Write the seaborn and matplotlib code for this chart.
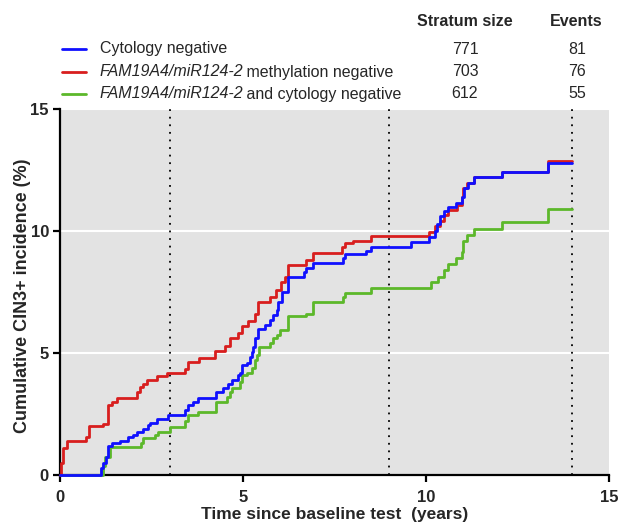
import numpy as np
import pandas as pd
import matplotlib
matplotlib.use("Agg")
import matplotlib.pyplot as plt
import seaborn as sns

# ==========================================================
# DATA
# ==========================================================

cyto_t = [0, 1.12, 1.18, 1.26, 1.3, 1.42, 1.64, 1.86, 2.0, 2.1, 2.28, 2.4, 2.46,
          2.65, 2.95, 3.42, 3.5, 3.63, 3.77, 4.26, 4.45, 4.6, 4.7, 4.87, 4.92,
          4.97, 5.1, 5.19, 5.24, 5.28, 5.33, 5.42, 5.6, 5.74, 5.83, 5.93, 5.96,
          6.07, 6.23, 6.67, 6.72, 6.9, 7.73, 7.8, 8.36, 8.5, 9.6, 10.08, 10.25,
          10.3, 10.38, 10.5, 10.6, 10.82, 10.98, 11.04, 11.15, 11.3, 12.08,
          13.33, 14.0]
cyto_y = [0, 0.3, 0.5, 0.75, 1.2, 1.3, 1.4, 1.55, 1.65, 1.75, 1.9, 2.05, 2.15,
          2.3, 2.45, 2.65, 2.87, 3.0, 3.15, 3.4, 3.55, 3.75, 3.9, 4.1, 4.2,
          4.5, 4.6, 4.85, 5.05, 5.25, 5.6, 6.0, 6.15, 6.35, 6.55, 6.75, 7.1,
          7.5, 8.1, 8.3, 8.5, 8.7, 8.9, 9.05, 9.2, 9.35, 9.55, 9.75, 10.0,
          10.3, 10.6, 10.8, 11.0, 11.15, 11.4, 11.75, 11.95, 12.2, 12.4,
          12.8, 12.8]

meth_t = [0, 0.02, 0.08, 0.19, 0.7, 0.8, 1.18, 1.3, 1.42, 1.55, 2.1, 2.18, 2.26,
          2.37, 2.65, 2.92, 3.42, 3.5, 3.8, 4.24, 4.5, 4.65, 4.87, 4.97, 5.15,
          5.33, 5.42, 5.74, 5.9, 6.03, 6.15, 6.23, 6.72, 6.9, 7.7, 7.8, 8.0,
          8.5, 10.08, 10.25, 10.38, 10.5, 10.6, 10.84, 10.98, 11.0, 11.12,
          11.3, 12.08, 13.33, 14.0]
meth_y = [0, 0.5, 1.1, 1.4, 1.55, 2.0, 2.1, 2.85, 3.0, 3.15, 3.4, 3.6, 3.75,
          3.9, 4.05, 4.2, 4.35, 4.65, 4.8, 5.1, 5.3, 5.6, 5.8, 6.1, 6.3,
          6.6, 7.1, 7.3, 7.6, 7.9, 8.1, 8.6, 8.8, 9.1, 9.35, 9.5, 9.6,
          9.8, 9.95, 10.2, 10.4, 10.65, 10.85, 11.05, 11.4, 11.75, 11.95,
          12.2, 12.4, 12.85, 12.85]

both_t = [0, 1.18, 1.22, 1.36, 2.2, 2.28, 2.6, 2.68, 3.0, 3.42, 3.5, 3.77, 4.26,
          4.55, 4.65, 4.7, 4.92, 4.97, 5.1, 5.24, 5.33, 5.37, 5.45, 5.74, 5.83,
          5.93, 6.0, 6.23, 6.72, 6.9, 7.73, 7.8, 8.5, 10.14, 10.33, 10.5, 10.6,
          10.82, 10.98, 11.0, 11.12, 11.3, 12.08, 13.33, 14.0]
both_y = [0, 0.35, 0.75, 1.15, 1.3, 1.5, 1.65, 1.75, 1.95, 2.2, 2.45, 2.6, 3.0,
          3.2, 3.4, 3.55, 3.8, 4.1, 4.2, 4.4, 4.7, 4.9, 5.25, 5.4, 5.6,
          5.75, 5.95, 6.5, 6.6, 7.1, 7.3, 7.45, 7.65, 7.9, 8.1, 8.4, 8.65,
          8.9, 9.15, 9.6, 9.85, 10.1, 10.35, 10.9, 10.9]

gene = "FAM19A4/miR124-2"
legend_rows = ["Cytology negative",
               gene + " methylation negative",
               gene + " and cytology negative"]
stratum_size = [771, 703, 612]
events = [81, 76, 55]
ref_years = [3, 9, 14]

colors = ["#1010ff", "#d81e1e", "#5cb82a"]

# ==========================================================
# STYLE
# ==========================================================

sns.set_theme(style="ticks")
plt.rcParams["font.family"] = ["Liberation Sans", "DejaVu Sans"]

fig = plt.figure(figsize=(6.2, 5.22), dpi=100)
ax = fig.add_axes([60 / 620, 47 / 522, 549 / 620, 366 / 522])
ax.set_facecolor("#e3e3e3")

# ==========================================================
# CURVES
# ==========================================================

df = pd.concat([
    pd.DataFrame({"t": cyto_t, "y": cyto_y, "grp": "cyto"}),
    pd.DataFrame({"t": meth_t, "y": meth_y, "grp": "meth"}),
    pd.DataFrame({"t": both_t, "y": both_y, "grp": "both"}),
])

for grp, col, z in [("both", colors[2], 3), ("meth", colors[1], 4), ("cyto", colors[0], 5)]:
    sns.lineplot(
        data=df[df.grp == grp],
        x="t",
        y="y",
        color=col,
        linewidth=2.0,
        drawstyle="steps-post",
        sort=False,
        estimator=None,
        ax=ax,
        zorder=z,
        clip_on=False,
    )

for yr in ref_years:
    ax.axvline(yr, color="black", linewidth=1.3, linestyle=(0, (1, 3.2)), zorder=2)

# ==========================================================
# AXES
# ==========================================================

ax.set_xlim(0, 15)
ax.set_ylim(0, 15)
ax.set_xticks([0, 5, 10, 15])
ax.set_yticks([0, 5, 10, 15])
ax.yaxis.grid(True, color="white", linewidth=1.5)
ax.xaxis.grid(False)
ax.set_axisbelow(True)

sns.despine(ax=ax)
for s in ["left", "bottom"]:
    ax.spines[s].set_linewidth(1.6)
    ax.spines[s].set_color("black")

ax.tick_params(axis="both", direction="out", length=5, width=1.6, color="black",
               labelsize=12, pad=3)
ax.tick_params(axis="x", pad=6)
for lbl in ax.get_xticklabels() + ax.get_yticklabels():
    lbl.set_fontweight("bold")

ax.set_xlabel("Time since baseline test  (years)", fontsize=12.5, fontweight="bold", labelpad=1)
ax.set_ylabel("Cumulative CIN3+ incidence (%)", fontsize=13, fontweight="bold")
ax.yaxis.set_label_coords(-0.053, 0.49)

# ==========================================================
# HEADER LEGEND TABLE
# ==========================================================

fig.text(465 / 620, 1 - 21 / 522, "Stratum size", ha="center", va="center",
         fontsize=11.5, fontweight="bold")
fig.text(576 / 620, 1 - 21 / 522, "Events", ha="center", va="center",
         fontsize=11.5, fontweight="bold")

row_y = [49, 72, 94]
for i, name in enumerate(legend_rows):
    yy = 1 - row_y[i] / 522
    fig.add_artist(plt.Line2D([62 / 620, 86 / 620], [yy, yy], color=colors[i],
                              linewidth=2.0, transform=fig.transFigure))
    if name.startswith(gene):
        t = fig.text(100 / 620, yy, gene, ha="left", va="center",
                     fontsize=11.5, style="italic")
        ax.annotate(name[len(gene):], xy=(1, 0), xycoords=t,
                    xytext=(-1.5, 0), textcoords="offset points",
                    ha="left", va="bottom", fontsize=11.5, annotation_clip=False)
    else:
        fig.text(100 / 620, yy, name, ha="left", va="center", fontsize=11.5)
    fig.text(465 / 620, yy, str(stratum_size[i]), ha="center", va="center", fontsize=11.5)
    fig.text(577 / 620, yy, str(events[i]), ha="center", va="center", fontsize=11.5)

fig.savefig("out.png", dpi=100)
